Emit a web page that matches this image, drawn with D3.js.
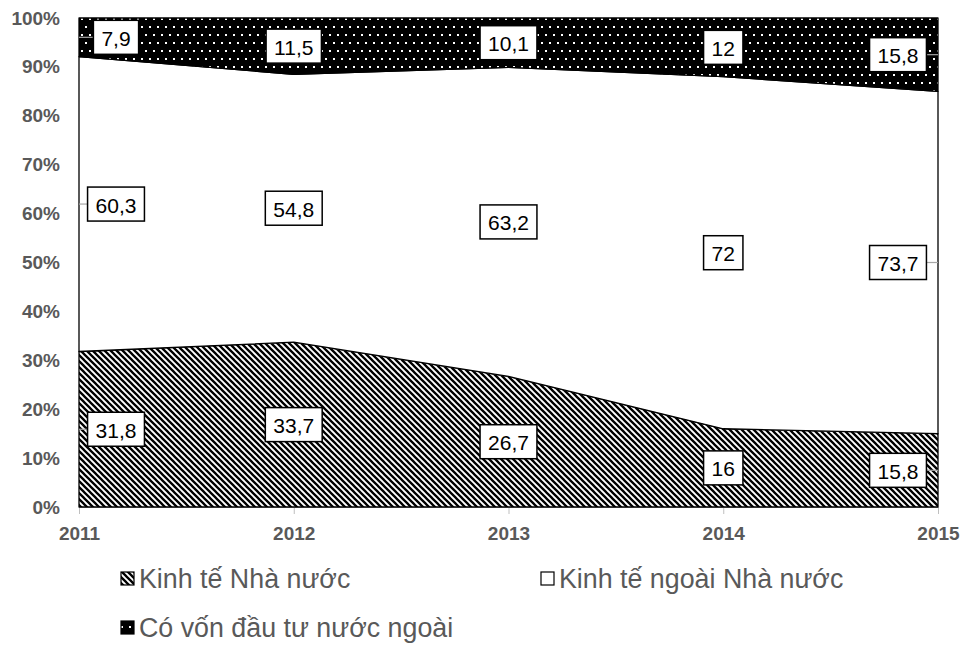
<!DOCTYPE html>
<html>
<head>
<meta charset="utf-8">
<script src="https://cdn.jsdelivr.net/npm/d3@7"></script>
<style>
  html, body { margin: 0; padding: 0; background: #fff; }
  svg { display: block; }
</style>
</head>
<body>
<svg id="chart" width="969" height="652"></svg>
<script>
// ---- data ----
const years = [2011, 2012, 2013, 2014, 2015];
const nhaNuoc = [31.8, 33.7, 26.7, 16, 15.8];
const ngoaiNhaNuoc = [60.3, 54.8, 63.2, 72, 73.7];
const vonNuocNgoai = [7.9, 11.5, 10.1, 12, 15.8];
const seriesNames = ["Kinh tế Nhà nước", "Kinh tế ngoài Nhà nước", "Có vốn đầu tư nước ngoài"];
const yTickValues = [0, 0.1, 0.2, 0.3, 0.4, 0.5, 0.6, 0.7, 0.8, 0.9, 1];

// ---- layout ----
const svg = d3.select("#chart");
const X0 = 79, X1 = 938, YT = 18, YB = 507;
const x = d3.scaleLinear().domain([years[0], years[years.length - 1]]).range([X0, X1]);
const y = d3.scaleLinear().domain([0, 1]).range([YB, YT]);

const rows = years.map((yr, i) => ({ year: yr, a: nhaNuoc[i], b: ngoaiNhaNuoc[i], c: vonNuocNgoai[i] }));
const keys = ["a", "b", "c"];
const stacked = d3.stack().keys(keys).offset(d3.stackOffsetExpand)(rows);

// ---- patterns ----
const defs = svg.append("defs");
const P = 6;
const hatch = defs.append("pattern").attr("id", "hatch").attr("patternUnits", "userSpaceOnUse")
  .attr("width", P).attr("height", P);
hatch.append("rect").attr("width", P).attr("height", P).attr("fill", "#fff");
hatch.append("path").attr("d", `M-1,-1 L${P + 1},${P + 1} M${-P / 2 - 1},${P / 2 - 1} L${P / 2 + 1},${P * 1.5 + 1} M${P / 2 - 1},${-P / 2 - 1} L${P * 1.5 + 1},${P / 2 + 1}`)
  .attr("stroke", "#000").attr("stroke-width", 2.3);

const dots = defs.append("pattern").attr("id", "dots").attr("patternUnits", "userSpaceOnUse")
  .attr("width", 8).attr("height", 16);
dots.append("rect").attr("width", 8).attr("height", 16).attr("fill", "#000");
dots.append("rect").attr("x", 1).attr("y", 2).attr("width", 2).attr("height", 2).attr("fill", "#fff");
dots.append("rect").attr("x", 5).attr("y", 10).attr("width", 2).attr("height", 2).attr("fill", "#fff");

const fills = ["url(#hatch)", "#fff", "url(#dots)"];

// ---- x axis ticks ----
const xAxis = d3.axisBottom(x).tickValues(years).tickFormat(d3.format("d")).tickSize(7).tickPadding(13);
const gx = svg.append("g").attr("transform", `translate(0,${YB})`).call(xAxis);
gx.select(".domain").attr("stroke", "#bfbfbf");
gx.selectAll(".tick line").attr("stroke", "#bfbfbf");
gx.selectAll(".tick text").attr("fill", "#595959").attr("font-family", "Liberation Sans, Arial, sans-serif")
  .attr("font-weight", "bold").attr("font-size", 19);

// ---- y axis labels ----
const yAxis = d3.axisLeft(y).tickValues(yTickValues).tickFormat(d3.format(".0%")).tickSize(0).tickPadding(19);
const gy = svg.append("g").attr("transform", `translate(${X0},0)`).call(yAxis);
gy.select(".domain").remove();
gy.selectAll(".tick text").attr("fill", "#595959").attr("font-family", "Liberation Sans, Arial, sans-serif")
  .attr("font-weight", "bold").attr("font-size", 19);

// ---- areas ----
const area = d3.area().x(d => x(d.data.year)).y0(d => y(d[0])).y1(d => y(d[1]));
svg.append("g").selectAll("path").data(stacked).join("path")
  .attr("d", area)
  .attr("fill", (d, i) => fills[i])
  .attr("stroke", "#000").attr("stroke-width", 1.3).attr("stroke-linejoin", "round");

// ---- data labels ----
const lg = svg.append("g").attr("font-family", "Liberation Sans, Arial, sans-serif").attr("font-size", 21);
const fmt = v => String(v).replace(".", ",");
stacked.forEach((s) => {
  s.forEach((d) => {
    const val = d.data[s.key];
    const px = x(d.data.year);
    const cy = y((d[0] + d[1]) / 2);
    const t = lg.append("text").attr("text-anchor", "middle").attr("dominant-baseline", "central")
      .attr("fill", "#000").text(fmt(val));
    const w = t.node().getComputedTextLength() + 16;
    const h = 34;
    let cx = px;
    cx = Math.max(cx, X0 + 37);
    cx = Math.min(cx, X1 - 40);
    if (Math.abs(cx - px) > w / 2 + 2) {
      const edge = cx < px ? cx + w / 2 : cx - w / 2;
      lg.insert("line", "text").attr("x1", px).attr("x2", edge).attr("y1", cy).attr("y2", cy)
        .attr("stroke", "#a6a6a6").attr("stroke-width", 1.2);
    }
    lg.insert("rect", "text").attr("x", cx - w / 2).attr("y", cy - h / 2).attr("width", w).attr("height", h)
      .attr("fill", "#fff").attr("stroke", "#000").attr("stroke-width", 1.5);
    t.attr("x", cx).attr("y", cy + 1);
  });
});

// ---- legend ----
const legendItems = [
  { name: seriesNames[0], fill: fills[0], sx: 121, sy: 572 },
  { name: seriesNames[1], fill: fills[1], sx: 541, sy: 572 },
  { name: seriesNames[2], fill: fills[2], sx: 121, sy: 621 }
];
const leg = svg.append("g").attr("font-family", "Liberation Sans, Arial, sans-serif").attr("font-size", 26.8);
legendItems.forEach(it => {
  leg.append("rect").attr("x", it.sx).attr("y", it.sy).attr("width", 13).attr("height", 13)
    .attr("fill", it.fill).attr("stroke", "#000").attr("stroke-width", 1.2);
  leg.append("text").attr("x", it.sx + 18).attr("y", it.sy + 7).attr("dominant-baseline", "central")
    .attr("fill", "#595959").text(it.name);
});
</script>
</body>
</html>
